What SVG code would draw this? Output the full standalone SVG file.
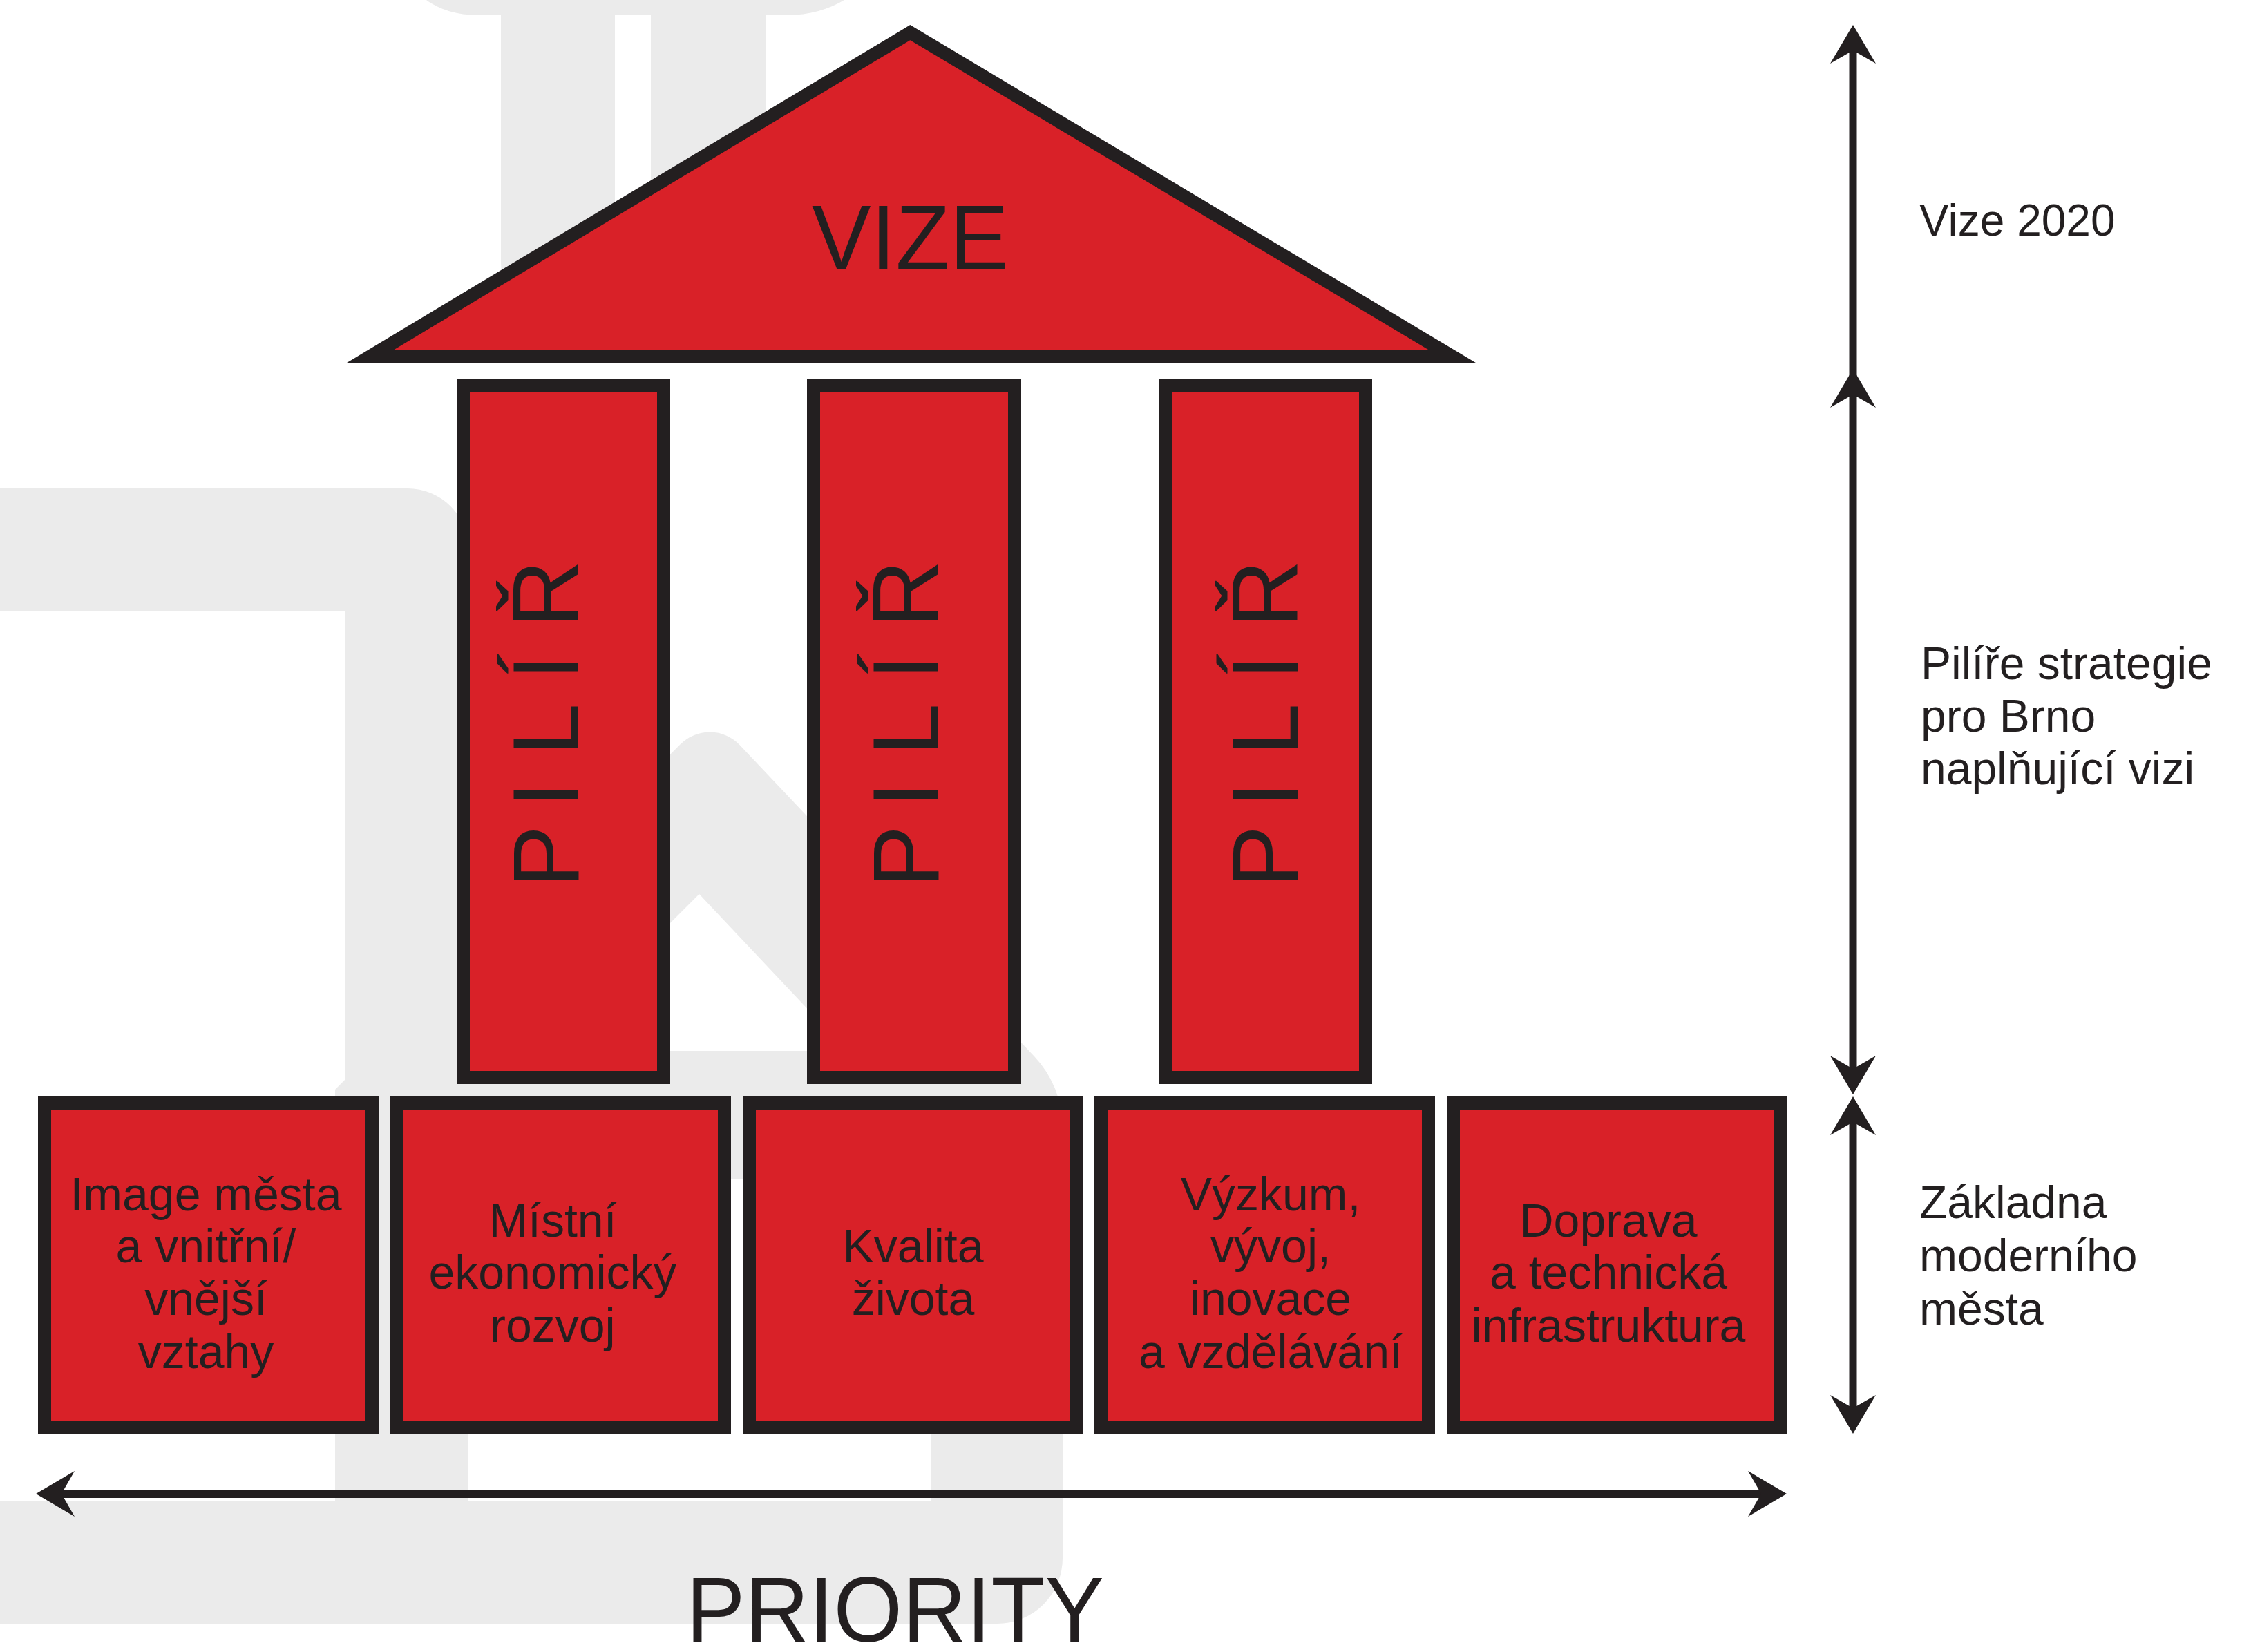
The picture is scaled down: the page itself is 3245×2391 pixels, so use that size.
<svg xmlns="http://www.w3.org/2000/svg" width="3245" height="2391" viewBox="0 0 3245 2391">
<style>
.bg{fill:#ebebeb;}
.blk{fill:#d92128;stroke:#231f20;stroke-width:19;stroke-linejoin:miter;}
.t{font-family:"Liberation Sans",Arial,sans-serif;fill:#231f20;}
.box{font-size:68px;text-anchor:middle;}
.lab{font-size:66px;}
.pil{font-size:135px;}
.con{stroke:#231f20;fill:none;}
</style>
<defs>
<marker id="ah" viewBox="0 -34 57 68" refX="30" refY="0" markerWidth="57" markerHeight="68" markerUnits="userSpaceOnUse" orient="auto-start-reverse">
<path d="M56,0 L0,-33 L19,0 L0,33 Z" fill="#231f20"/>
</marker>
</defs>
<rect x="0" y="0" width="3245" height="2391" fill="#ffffff"/>
<g id="watermark">
<path class="bg" d="M617,0 H1222 C1200,13 1172,22 1138,22 H1108 V380 Q1108,440 1048,440 H1002 Q942,440 942,380 V22 H890 V380 Q890,440 830,440 H785 Q725,440 725,380 V22 H694 C660,22 635,13 617,0 Z"/>
<path class="bg" d="M-5,707 H590 A88,88 0 0 1 678,795 V1590 H500 V884 H-5 Z"/>
<path class="bg" fill-rule="evenodd" d="M984.9,1077.1 A60,60 0 0 1 1070.9,1078.4 L1497,1529 A150,150 0 0 1 1538,1632 V2255 A95,95 0 0 1 1443,2350 H-5 V2172 H485 V1577 Z M1012,1294 L1226,1521 L785,1521 Z M678,1706 H1348 V2172 H678 Z"/>
</g>
<g id="roof">
<polygon class="blk" points="1317.3,47.1 536.3,515.5 2101.5,515.5"/>
<text class="t" x="1175" y="390" font-size="134" textLength="285" lengthAdjust="spacingAndGlyphs">VIZE</text>
</g>
<g id="pillar1">
<rect class="blk" x="670.5" y="558.5" width="290" height="1001"/>
<text class="t pil" transform="translate(837,1275) rotate(-90)" x="-10 106 182 291 367" y="0">PILÍŘ</text>
</g>
<g id="pillar2">
<rect class="blk" x="1177.5" y="558.5" width="291" height="1001"/>
<text class="t pil" transform="translate(1358,1275) rotate(-90)" x="-10 106 182 291 367" y="0">PILÍŘ</text>
</g>
<g id="pillar3">
<rect class="blk" x="1686.5" y="558.5" width="290" height="1001"/>
<text class="t pil" transform="translate(1878,1275) rotate(-90)" x="-10 106 182 291 367" y="0">PILÍŘ</text>
</g>
<g id="base1">
<rect class="blk" x="64.5" y="1596.5" width="474" height="470"/>
<text class="t box" x="298" y="1752">Image města</text>
<text class="t box" x="298" y="1827">a vnitřní/</text>
<text class="t box" x="298" y="1903">vnější</text>
<text class="t box" x="298" y="1980">vztahy</text>
</g>
<g id="base2">
<rect class="blk" x="574.5" y="1596.5" width="474" height="470"/>
<text class="t box" x="800" y="1790">Místní</text>
<text class="t box" x="800" y="1865">ekonomický</text>
<text class="t box" x="800" y="1942">rozvoj</text>
</g>
<g id="base3">
<rect class="blk" x="1084.5" y="1596.5" width="474" height="470"/>
<text class="t box" x="1321.5" y="1827">Kvalita</text>
<text class="t box" x="1321.5" y="1903">života</text>
</g>
<g id="base4">
<rect class="blk" x="1593.5" y="1596.5" width="474" height="470"/>
<text class="t box" x="1839" y="1752">Výzkum,</text>
<text class="t box" x="1839" y="1827">vývoj,</text>
<text class="t box" x="1839" y="1903">inovace</text>
<text class="t box" x="1839" y="1980">a vzdělávání</text>
</g>
<g id="base5">
<rect class="blk" x="2103.5" y="1596.5" width="474" height="470"/>
<text class="t box" x="2328" y="1790">Doprava</text>
<text class="t box" x="2328" y="1865">a technická</text>
<text class="t box" x="2328" y="1942">infrastruktura</text>
</g>
<g id="connectors">
<path class="con" stroke-width="11" d="M2682,62 V560" marker-start="url(#ah)"/>
<path class="con" stroke-width="11" d="M2682,560 V1558" marker-start="url(#ah)" marker-end="url(#ah)"/>
<path class="con" stroke-width="11" d="M2682,1613 V2049" marker-start="url(#ah)" marker-end="url(#ah)"/>
<path class="con" stroke-width="12" d="M78,2162 H2560" marker-start="url(#ah)" marker-end="url(#ah)"/>
</g>
<g id="labels">
<text class="t" x="2778" y="341" font-size="64">Vize 2020</text>
<text class="t lab" x="2780" y="983">Pilíře strategie</text>
<text class="t lab" x="2780" y="1059">pro Brno</text>
<text class="t lab" x="2780" y="1135">naplňující vizi</text>
<text class="t lab" x="2778" y="1763">Základna</text>
<text class="t lab" x="2778" y="1840">moderního</text>
<text class="t lab" x="2778" y="1917">města</text>
<text class="t" x="993" y="2376" font-size="134" textLength="605" lengthAdjust="spacingAndGlyphs">PRIORITY</text>
</g>
</svg>
